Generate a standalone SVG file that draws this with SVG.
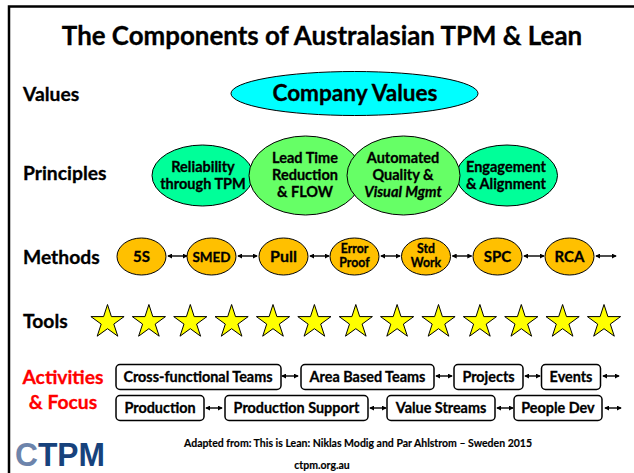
<svg xmlns="http://www.w3.org/2000/svg" width="634" height="473" viewBox="0 0 634 473">
<style>
text{font-family:"Lato","Carlito","Liberation Sans",sans-serif;font-weight:700;fill:#000;stroke:#000;stroke-width:.3;text-anchor:middle}
.lab{font-size:19.300px;text-anchor:start}
.red{fill:#ff0000;stroke:#ff0000;text-anchor:middle}
.p{font-size:14.500px}
.m{font-size:15px}
.m2{font-size:12.300px}
.b{font-size:14.400px}
.f{font-size:10.500px;stroke-width:.15}
.el{stroke:#000;stroke-width:1}
.g1{fill:#00ff99}.g2{fill:#66ff66}.o{fill:#ffc000}
.box{fill:#fff;stroke:#000;stroke-width:1.5}
.star{fill:#ffff00;stroke:#000;stroke-width:1}
.cn{stroke:#000;stroke-width:1.4;fill:none;marker-start:url(#a);marker-end:url(#a)}
.logo{font-family:"Liberation Sans",sans-serif;font-size:33.500px;text-anchor:start;stroke:none}
</style>
<defs>
<marker id="a" viewBox="0 0 6 6" refX="5" refY="3" markerWidth="5" markerHeight="5" orient="auto-start-reverse" markerUnits="userSpaceOnUse"><path d="M0 0L6 3L0 6z" fill="#000"/></marker>
<polygon id="s" points="0,-17.5 3.9,-5.4 16.6,-5.4 6.3,2.1 10.3,14.2 0,6.7 -10.3,14.2 -6.3,2.1 -16.6,-5.4 -3.9,-5.4"/>
</defs>
<rect width="634" height="473" fill="#fff"/>
<path d="M9 473V6.500H634" fill="none" stroke="#000" stroke-width="2.500"/>
<text id="title" x="322" y="45" font-size="25.900px">The Components of Australasian TPM &amp; Lean</text>
<text class="lab" x="23" y="100.500">Values</text>
<text class="lab" x="23" y="180">Principles</text>
<text class="lab" x="23" y="264">Methods</text>
<text class="lab" x="23" y="328">Tools</text>
<text class="lab red" x="63" y="384">Activities</text>
<text class="lab red" x="63" y="409">&amp; Focus</text>

<g id="company"><ellipse class="el" cx="354.500" cy="93.500" rx="123.500" ry="22" fill="#00ffff"/><text x="355" y="101" font-size="22.600px">Company Values</text></g>
<g id="reliability"><ellipse class="el g1" cx="202.500" cy="175.500" rx="50.500" ry="30.500"/><text class="p" x="203" y="172">Reliability</text><text class="p" x="203" y="189">through TPM</text></g>
<g id="engagement"><ellipse class="el g1" cx="507" cy="175.500" rx="50.500" ry="30.500"/><text class="p" x="506" y="172">Engagement</text><text class="p" x="506" y="189">&amp; Alignment</text></g>
<g id="leadtime"><ellipse class="el g2" cx="305.500" cy="175.500" rx="56.500" ry="39.500"/><text class="p" x="305" y="163">Lead Time</text><text class="p" x="305" y="180">Reduction</text><text class="p" x="305" y="197">&amp; FLOW</text></g>
<g id="automated"><ellipse class="el g2" cx="403.500" cy="175.500" rx="56.500" ry="39.500"/><text class="p" x="403" y="163">Automated</text><text class="p" x="403" y="180">Quality &amp;</text><text class="p" x="403" y="197" font-style="italic">Visual Mgmt</text></g>

<g id="connectors">
<path class="cn" d="M168 256H187"/><path class="cn" d="M238 256H257"/><path class="cn" d="M310 256H329"/><path class="cn" d="M381 256H400"/><path class="cn" d="M452.500 256H471.500"/><path class="cn" d="M524 256H544"/><path class="cn" d="M596 256H616"/>
<path class="cn" d="M282 376H298"/><path class="cn" d="M436 376H452"/><path class="cn" d="M525 376H540"/><path class="cn" d="M603 376H619"/>
<path class="cn" d="M206 408H222"/><path class="cn" d="M370 408H386"/><path class="cn" d="M497 408H513"/><path class="cn" d="M605 408H621"/>
</g>

<g id="m5s"><ellipse class="el o" cx="141.500" cy="256.500" rx="24.500" ry="18.500"/><text class="m" x="141.500" y="262">5S</text></g>
<g id="smed"><ellipse class="el o" cx="211.500" cy="256.500" rx="24.500" ry="18.500"/><text class="m" x="211.500" y="262" style="font-size:13.500px">SMED</text></g>
<g id="pull"><ellipse class="el o" cx="283.500" cy="256.500" rx="24.500" ry="18.500"/><text class="m" x="283.500" y="262" style="font-size:16px">Pull</text></g>
<g id="error"><ellipse class="el o" cx="354.500" cy="256.500" rx="24.500" ry="18.500"/><text class="m2" x="354.500" y="252.500">Error</text><text class="m2" x="354.500" y="267.300">Proof</text></g>
<g id="std"><ellipse class="el o" cx="426" cy="256.500" rx="24.500" ry="18.500"/><text class="m2" x="426" y="252.500">Std</text><text class="m2" x="426" y="267.300">Work</text></g>
<g id="spc"><ellipse class="el o" cx="497.500" cy="256.500" rx="24.500" ry="18.500"/><text class="m" x="497.500" y="262">SPC</text></g>
<g id="rca"><ellipse class="el o" cx="569.500" cy="256.500" rx="24.500" ry="18.500"/><text class="m" x="569.500" y="262">RCA</text></g>

<g id="tools">
<use class="star" href="#s" x="107.500" y="322"/><use class="star" href="#s" x="148.900" y="322"/><use class="star" href="#s" x="190.300" y="322"/><use class="star" href="#s" x="231.600" y="322"/><use class="star" href="#s" x="273" y="322"/><use class="star" href="#s" x="314.400" y="322"/><use class="star" href="#s" x="355.800" y="322"/><use class="star" href="#s" x="397.100" y="322"/><use class="star" href="#s" x="438.500" y="322"/><use class="star" href="#s" x="479.900" y="322"/><use class="star" href="#s" x="521.300" y="322"/><use class="star" href="#s" x="562.600" y="322"/><use class="star" href="#s" x="604" y="322"/>
</g>

<g id="a1"><rect class="box" x="116" y="364.500" width="165" height="25" rx="4"/><text class="b" x="198" y="382">Cross-functional Teams</text></g>
<g id="a2"><rect class="box" x="301" y="364.500" width="133" height="25" rx="4"/><text class="b" x="367.500" y="382">Area Based Teams</text></g>
<g id="a3"><rect class="box" x="454" y="364.500" width="69" height="25" rx="4"/><text class="b" x="488.500" y="382">Projects</text></g>
<g id="a4"><rect class="box" x="541.500" y="364.500" width="59" height="25" rx="4"/><text class="b" x="571" y="382">Events</text></g>
<g id="a5"><rect class="box" x="116" y="395.500" width="88" height="25" rx="4"/><text class="b" x="160" y="413">Production</text></g>
<g id="a6"><rect class="box" x="225" y="395.500" width="143" height="25" rx="4"/><text class="b" x="296.500" y="413">Production Support</text></g>
<g id="a7"><rect class="box" x="387" y="395.500" width="108" height="25" rx="4"/><text class="b" x="441" y="413">Value Streams</text></g>
<g id="a8"><rect class="box" x="514" y="395.500" width="88" height="25" rx="4"/><text class="b" x="558" y="413">People Dev</text></g>

<text class="f" x="358" y="447">Adapted from: This is Lean: Niklas Modig and Par Ahlstrom – Sweden 2015</text>
<text class="f" x="322" y="469">ctpm.org.au</text>
<g id="logo"><text class="logo" x="15" y="465.800" textLength="90" lengthAdjust="spacingAndGlyphs" style="fill:#17427c"><tspan style="fill:#6d84ab">C</tspan>TPM</text></g>
</svg>
